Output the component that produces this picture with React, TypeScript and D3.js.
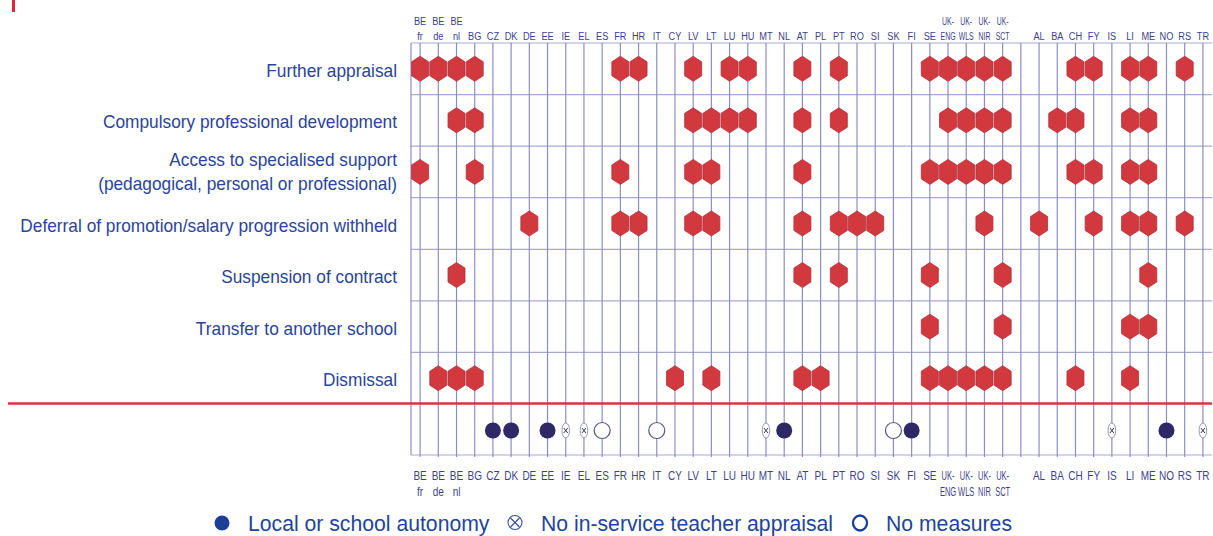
import { scaleBand } from "d3";

const W = 1213;
const H = 536;
const G = { left: 411, right: 1212, top: 43, split: 404, bottom: 455 };

const COUNTRIES = [
  "BE fr", "BE de", "BE nl", "BG", "CZ", "DK", "DE", "EE", "IE", "EL", "ES", "FR", "HR", "IT",
  "CY", "LV", "LT", "LU", "HU", "MT", "NL", "AT", "PL", "PT", "RO", "SI", "SK", "FI", "SE",
  "UK-ENG", "UK-WLS", "UK-NIR", "UK-SCT", "", "AL", "BA", "CH", "FY", "IS", "LI", "ME", "NO", "RS", "TR",
];

const MEASURES = [
  "Further appraisal",
  "Compulsory professional development",
  "Access to specialised support|(pedagogical, personal or professional)",
  "Deferral of promotion/salary progression withheld",
  "Suspension of contract",
  "Transfer to another school",
  "Dismissal",
];

const FURTHER_APPRAISAL = ["BE fr", "BE de", "BE nl", "BG", "FR", "HR", "LV", "LU", "HU", "AT", "PT", "SE", "UK-ENG", "UK-WLS", "UK-NIR", "UK-SCT", "CH", "FY", "LI", "ME", "RS"];
const COMPULSORY_CPD = ["BE nl", "BG", "LV", "LT", "LU", "HU", "AT", "PT", "UK-ENG", "UK-WLS", "UK-NIR", "UK-SCT", "BA", "CH", "LI", "ME"];
const SPECIALISED_SUPPORT = ["BE fr", "BG", "FR", "LV", "LT", "AT", "SE", "UK-ENG", "UK-WLS", "UK-NIR", "UK-SCT", "CH", "FY", "LI", "ME"];
const DEFERRAL = ["DE", "FR", "HR", "LV", "LT", "AT", "PT", "RO", "SI", "UK-NIR", "AL", "FY", "LI", "ME", "RS"];
const SUSPENSION = ["BE nl", "AT", "PT", "SE", "UK-SCT", "ME"];
const TRANSFER = ["SE", "UK-SCT", "LI", "ME"];
const DISMISSAL = ["BE de", "BE nl", "BG", "CY", "LT", "AT", "PL", "SE", "UK-ENG", "UK-WLS", "UK-NIR", "UK-SCT", "CH", "LI"];

const ROW_VALUES = [FURTHER_APPRAISAL, COMPULSORY_CPD, SPECIALISED_SUPPORT, DEFERRAL, SUSPENSION, TRANSFER, DISMISSAL];

const LOCAL_AUTONOMY = ["CZ", "DK", "EE", "NL", "FI", "NO"];
const NO_APPRAISAL = ["IE", "EL", "MT", "IS", "TR"];
const NO_MEASURES = ["ES", "IT", "SK"];

const LEGEND = ["Local or school autonomy", "No in-service teacher appraisal", "No measures"];
const LEGEND_X = [222, 515, 860];

const BLUE = "#2a449c";
const HEAD = "#3d3f8e";
const VLINE = "#8d8dc6";
const HLINE = "#a8a9d6";
const RED = "#d2393f";
const NAVY = "#2e2866";

// two-line country labels: "BE fr" -> ["BE","fr"], "UK-ENG" -> ["UK-","ENG"]
const split = (c: string): [string, string] | null => {
  if (c.includes(" ")) {
    const [a, b] = c.split(" ");
    return [a, b];
  }
  if (c.startsWith("UK-")) return ["UK-", c.slice(3)];
  return null;
};

const hex = (cx: number, cy: number, w = 17, h = 25, s = 5.5) => {
  const l = cx - w / 2, r = cx + w / 2, t = cy - h / 2, b = cy + h / 2;
  return `M${cx},${t}L${r},${t + s}L${r},${b - s}L${cx},${b}L${l},${b - s}L${l},${t + s}Z`;
};

export default function App() {
  const x = scaleBand<string>().domain(COUNTRIES).range([G.left, G.right]);
  const y = scaleBand<string>().domain(MEASURES).range([G.top, G.split]);
  const cx = (c: string) => (x(c) ?? 0) + x.bandwidth() / 2;
  const cy = (m: string) => (y(m) ?? 0) + y.bandwidth() / 2;
  const yLow = (G.split + G.bottom) / 2 + 1;

  const hLines = [...MEASURES.map((m) => y(m) ?? 0), G.bottom];

  const countryLabel = (c: string, top: boolean) => {
    const parts = split(c);
    const px = cx(c);
    const size = top ? 11.5 : 12.5;
    const lines: [string, number][] = top
      ? parts ? [[parts[0], 25], [parts[1], 40]] : [[c, 40]]
      : parts ? [[parts[0], 480], [parts[1], 496]] : [[c, 480]];
    // the original face is condensed; squeeze 3-letter codes harder so they fit the column
    return lines.map(([t, ly], i) => (
      <text
        key={`${c}-${top}-${i}`}
        transform={`translate(${px},${ly}) scale(${t.length >= 3 ? 0.6 : 0.8},1)`}
        textAnchor="middle"
        fontSize={size}
        fill={HEAD}
      >
        {t}
      </text>
    ));
  };

  return (
    <svg
      width={W}
      height={H}
      viewBox={`0 0 ${W} ${H}`}
      style={{ position: "absolute", left: 0, top: 0, background: "#fff" }}
      fontFamily="'Liberation Sans', Arial, sans-serif"
    >
      <rect x={12} y={0} width={3} height={12} fill="#e8203a" />

      {/* grid */}
      {hLines.map((v, i) => (
        <line key={`h${i}`} x1={G.left} x2={G.right} y1={v} y2={v} stroke={HLINE} strokeWidth={1.2} />
      ))}
      <line x1={G.left} x2={G.left} y1={G.top} y2={G.bottom} stroke={VLINE} strokeWidth={1.2} />
      {COUNTRIES.map((c) => (
        <line key={`v${c}`} x1={cx(c)} x2={cx(c)} y1={G.top} y2={G.bottom + 2} stroke={VLINE} strokeWidth={1.2} />
      ))}

      <line x1={8} x2={G.right} y1={G.split - 0.5} y2={G.split - 0.5} stroke="#d8343e" strokeWidth={2.6} />

      {/* row labels */}
      {MEASURES.map((m) => {
        const lines = m.split("|");
        const base = cy(m) + 8;
        const offs = lines.length === 1 ? [0] : [-13.5, 10.5];
        return lines.map((t, i) => (
          <text
            key={`${m}-${i}`}
            transform={`translate(397,${base + offs[i]}) scale(1,1.1)`}
            textAnchor="end"
            fontSize={17.3}
            fill={BLUE}
          >
            {t}
          </text>
        ));
      })}

      {/* measure markers */}
      {MEASURES.map((m, r) =>
        ROW_VALUES[r].map((c) => (
          <path key={`${m}-${c}`} d={hex(cx(c), cy(m))} fill={RED} stroke="#b3303a" strokeWidth={0.8} />
        ))
      )}

      {/* bottom strip */}
      {LOCAL_AUTONOMY.map((c) => (
        <circle key={`la${c}`} cx={cx(c)} cy={yLow} r={8} fill={NAVY} />
      ))}
      {NO_MEASURES.map((c) => (
        <circle key={`nm${c}`} cx={cx(c)} cy={yLow} r={8} fill="#fff" stroke="#55558a" strokeWidth={1.2} />
      ))}
      {NO_APPRAISAL.map((c) => (
        <g key={`na${c}`}>
          <ellipse cx={cx(c)} cy={yLow} rx={3.8} ry={7.5} fill="#fff" stroke="#8888aa" strokeWidth={0.9} />
          <path
            d={`M${cx(c) - 2},${yLow - 2.5}L${cx(c) + 2},${yLow + 2.5}M${cx(c) + 2},${yLow - 2.5}L${cx(c) - 2},${yLow + 2.5}`}
            stroke="#333366"
            strokeWidth={1}
          />
        </g>
      ))}

      {/* country labels */}
      {COUNTRIES.filter((c) => c).map((c) => countryLabel(c, true))}
      {COUNTRIES.filter((c) => c).map((c) => countryLabel(c, false))}

      {/* legend */}
      <circle cx={LEGEND_X[0]} cy={523} r={7.5} fill="#1d3e99" />
      <g stroke="#2f4fa0" strokeWidth={1.1} fill="none">
        <circle cx={LEGEND_X[1]} cy={522.5} r={7} />
        <path d={`M${LEGEND_X[1] - 4.5},${518}L${LEGEND_X[1] + 4.5},${527}M${LEGEND_X[1] + 4.5},${518}L${LEGEND_X[1] - 4.5},${527}`} />
      </g>
      <ellipse cx={LEGEND_X[2]} cy={523} rx={7} ry={7.5} fill="none" stroke="#1d3e99" strokeWidth={2.3} />
      {LEGEND.map((t, i) => (
        <text key={t} x={LEGEND_X[i] + 26} y={531} fontSize={21.2} fill="#1f449c">
          {t}
        </text>
      ))}
    </svg>
  );
}
